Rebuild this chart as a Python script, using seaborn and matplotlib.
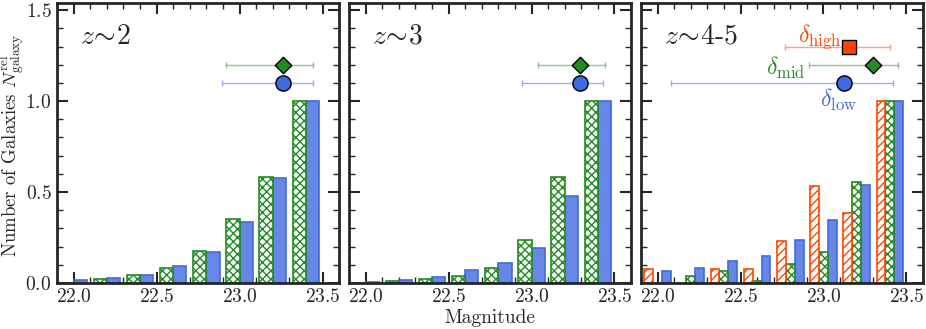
import numpy as np
import pandas as pd
import matplotlib.pyplot as plt
import seaborn as sns
from matplotlib.colors import to_rgba
from matplotlib.ticker import MultipleLocator

# bordes de los bins de magnitud
bordes = [21.9, 22.1, 22.3, 22.5, 22.7, 22.9, 23.1, 23.3, 23.5]
centros = [(a + b) / 2 for a, b in zip(bordes[:-1], bordes[1:])]

# alturas normalizadas
z2_mid = [0.0, 0.024, 0.042, 0.084, 0.178, 0.352, 0.584, 1.0]
z2_low = [0.018, 0.027, 0.046, 0.093, 0.172, 0.335, 0.579, 1.0]
z3_mid = [0.0, 0.008, 0.02, 0.038, 0.084, 0.238, 0.582, 1.0]
z3_low = [0.005, 0.018, 0.035, 0.073, 0.112, 0.192, 0.478, 1.0]
z45_high = [0.075, 0.0, 0.075, 0.075, 0.228, 0.535, 0.383, 1.0]
z45_mid = [0.0, 0.037, 0.063, 0.01, 0.104, 0.172, 0.553, 1.0]
z45_low = [0.068, 0.082, 0.118, 0.15, 0.236, 0.346, 0.54, 1.0]

# medianas con rango: [x, x_min, x_max]
z2_mid_pt = [23.26, 22.92, 23.44]
z2_low_pt = [23.26, 22.895, 23.44]
z3_mid_pt = [23.29, 23.04, 23.44]
z3_low_pt = [23.295, 22.94, 23.43]
z45_high_pt = [23.155, 22.77, 23.40]
z45_mid_pt = [23.30, 22.91, 23.45]
z45_low_pt = [23.125, 22.08, 23.42]

# altura de cada punto
y_punto = {'high': 1.30, 'mid': 1.20, 'low': 1.10}

titulos = [r'$z\!\sim\!2$', r'$z\!\sim\!3$', r'$z\!\sim\!4$-5']

colores = {'high': '#FF4500', 'mid': '#228B22', 'low': '#4169E1'}
marcadores = {'high': 's', 'mid': 'D', 'low': 'o'}
tamanos = {'high': 95, 'mid': 70, 'low': 120}

paneles = [
    {'high': None, 'mid': (z2_mid, z2_mid_pt), 'low': (z2_low, z2_low_pt)},
    {'high': None, 'mid': (z3_mid, z3_mid_pt), 'low': (z3_low, z3_low_pt)},
    {'high': (z45_high, z45_high_pt), 'mid': (z45_mid, z45_mid_pt), 'low': (z45_low, z45_low_pt)},
]

sns.set_style('ticks')
plt.rcParams['font.family'] = ['cmr10', 'DejaVu Serif']
plt.rcParams['mathtext.fontset'] = 'cm'
plt.rcParams['axes.formatter.use_mathtext'] = True
plt.rcParams['axes.unicode_minus'] = False
plt.rcParams['hatch.linewidth'] = 1.0

fig, axes = plt.subplots(1, 3, figsize=(9.26, 3.29), dpi=100, sharey=True)
fig.subplots_adjust(left=0.0616, right=0.9968, bottom=0.14, top=0.991, wspace=0.035)

for i, ax in enumerate(axes):
    panel = paneles[i]
    niveles = [k for k in ['high', 'mid', 'low'] if panel[k] is not None]

    # tabla larga para seaborn
    filas = []
    for k in niveles:
        for c, h in zip(centros, panel[k][0]):
            filas.append({'mag': c, 'peso': h, 'delta': k})
    datos = pd.DataFrame(filas)

    sns.histplot(data=datos, x='mag', weights='peso', hue='delta', hue_order=niveles,
                 bins=bordes, multiple='dodge', shrink=1.0, palette=colores,
                 legend=False, ax=ax)

    # estilo de cada barra y agrupar al 80% del bin
    ancho_bin = bordes[1] - bordes[0]
    for p in ax.patches:
        fc = p.get_facecolor()
        nivel = None
        for k in niveles:
            if np.allclose(fc[:3], to_rgba(colores[k])[:3], atol=0.02):
                nivel = k
        j = int(np.floor((p.get_x() + 1e-6 - bordes[0]) / ancho_bin))
        c = centros[j]
        p.set_x(c + (p.get_x() - c) * 0.8)
        p.set_width(p.get_width() * 0.8)
        p.set_linewidth(1.2)
        if nivel == 'low':
            p.set_facecolor(to_rgba(colores['low'], 0.8))
            p.set_edgecolor(colores['low'])
        elif nivel == 'mid':
            p.set_facecolor('white')
            p.set_edgecolor(colores['mid'])
            p.set_hatch('xxxx')
        elif nivel == 'high':
            p.set_facecolor('white')
            p.set_edgecolor(colores['high'])
            p.set_hatch('////')

    # medianas con barras de error
    for k in niveles:
        x, x0, x1 = panel[k][1]
        y = y_punto[k]
        ax.errorbar([x], [y], xerr=[[x - x0], [x1 - x]], fmt='none',
                    ecolor=colores[k], alpha=0.5, elinewidth=1, capsize=2, capthick=1)
        sns.scatterplot(x=[x], y=[y], marker=marcadores[k], color=colores[k],
                        edgecolor='black', linewidth=1, s=tamanos[k], zorder=5,
                        legend=False, ax=ax)

    ax.text(0.08, 0.88, titulos[i], transform=ax.transAxes, fontsize=20,
            ha='left', va='center')

    ax.set_xlim(21.9, 23.6)
    ax.set_ylim(0, 1.54)
    ax.xaxis.set_major_locator(MultipleLocator(0.5))
    ax.xaxis.set_minor_locator(MultipleLocator(0.1))
    ax.yaxis.set_major_locator(MultipleLocator(0.5))
    ax.yaxis.set_minor_locator(MultipleLocator(0.1))
    ax.tick_params(which='both', direction='in', top=True, right=True, labelsize=14)
    ax.tick_params(which='major', length=8, width=1.5, pad=4)
    ax.tick_params(which='minor', length=4, width=1)
    for s in ax.spines.values():
        s.set_linewidth(2)
    ax.set_xlabel('')
    ax.set_ylabel('')

# etiquetas de los grupos en el tercer panel
axes[2].text(22.98, 1.355, r'$\delta_{\rm high}$', color=colores['high'], fontsize=17, ha='center', va='center')
axes[2].text(22.77, 1.185, r'$\delta_{\rm mid}$', color=colores['mid'], fontsize=17, ha='center', va='center')
axes[2].text(23.09, 1.005, r'$\delta_{\rm low}$', color=colores['low'], fontsize=17, ha='center', va='center')

axes[1].set_xlabel('Magnitude', fontsize=14, labelpad=2)
axes[0].set_ylabel(r'Number of Galaxies $N^{\rm rel}_{\rm galaxy}$', fontsize=13.5)
axes[0].yaxis.set_label_coords(-0.105, 0.49)

plt.savefig('out.png', dpi=100)
